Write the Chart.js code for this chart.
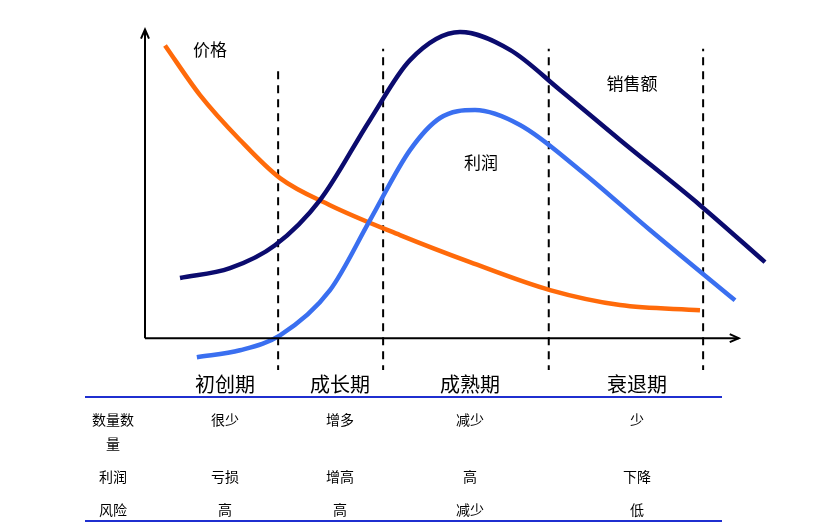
<!DOCTYPE html>
<html><head><meta charset="utf-8">
<script src="https://cdn.jsdelivr.net/npm/chart.js@4"></script>
<style>html,body{margin:0;background:#fff}#wrap{width:819px;height:524px}</style>
</head><body><div id="wrap"><canvas id="c"></canvas></div>
<script>
// data in diagram units: x 0..100 along the time axis, y -10..100
const priceX = [3.2, 8.8, 15.2, 21.6, 29.6, 40.8, 52, 64.8, 76, 88.8];
const priceY = [92, 76.4, 62.3, 50.3, 41.8, 32.4, 23.9, 15.1, 10.4, 8.8];
const salesX = [5.6, 13.6, 20.8, 28, 36, 42.4, 50.4, 58.4, 66.4, 76, 88.8, 99.2];
const salesY = [18.9, 22, 29.2, 43.4, 68.6, 87.4, 96.2, 90.6, 78, 62.3, 41.8, 23.9];
const profitX = [8.3, 15.2, 21.6, 29.6, 36, 42.4, 47.2, 52.8, 60, 69.6, 80.8, 94.4];
const profitY = [-6, -3.8, 0.9, 15.1, 37.1, 59.1, 69.2, 71.7, 67, 52.8, 34, 11.9];
const stageBounds = [21.3, 38.1, 64.6, 89.3];
const stageTops = [85, 91, 91, 91];
const stages = ["初创期", "成长期", "成熟期", "衰退期"];
const rowNames = [["数量数", "量"], ["利润"], ["风险"]];
const rows = [
  ["很少", "增多", "减少", "少"],
  ["亏损", "增高", "高", "下降"],
  ["高", "高", "减少", "低"]
];

const pts = (xs, ys) => xs.map((x, i) => ({x, y: ys[i]}));
const curve = (data, color) => ({data, borderColor: color, borderWidth: 4.5, pointRadius: 0,
  cubicInterpolationMode: "monotone", fill: false});
const dashes = stageBounds.map((x, i) => ({data: [{x, y: -11}, {x, y: stageTops[i]}],
  borderColor: "#000", borderWidth: 2, borderDash: [8, 6], pointRadius: 0}));

const CJK = '"Noto Sans CJK SC", sans-serif';

const decor = {
  id: "decor",
  afterDatasetsDraw(chart) {
    const {ctx, scales: {x, y}} = chart;
    const ox = x.getPixelForValue(0), oy = y.getPixelForValue(0);
    ctx.save();
    ctx.strokeStyle = "#000"; ctx.fillStyle = "#000"; ctx.lineWidth = 2;
    // axes with arrows
    const ty = y.getPixelForValue(97), rx = x.getPixelForValue(95);
    ctx.beginPath(); ctx.moveTo(ox, oy); ctx.lineTo(ox, ty); ctx.moveTo(ox, oy); ctx.lineTo(rx, oy); ctx.stroke();
    ctx.beginPath(); ctx.moveTo(ox - 4, ty + 9); ctx.lineTo(ox, ty); ctx.lineTo(ox + 4, ty + 9); ctx.stroke();
    ctx.beginPath(); ctx.moveTo(rx - 9, oy - 4); ctx.lineTo(rx, oy); ctx.lineTo(rx - 9, oy + 4); ctx.stroke();
    // curve labels
    ctx.font = "17px " + CJK; ctx.textAlign = "center"; ctx.textBaseline = "middle";
    ctx.fillText("价格", 210, 50);
    ctx.fillText("销售额", 632, 84);
    ctx.fillText("利润", 481, 163);
    // stage names
    const cols = [225, 340, 470, 637];
    ctx.font = "20px " + CJK;
    stages.forEach((s, i) => ctx.fillText(s, cols[i], 384));
    ctx.strokeStyle = "#1f2fd0"; ctx.lineWidth = 2;
    ctx.beginPath(); ctx.moveTo(85, 397); ctx.lineTo(722, 397); ctx.moveTo(85, 521); ctx.lineTo(722, 521); ctx.stroke();
    // table
    ctx.font = "14px " + CJK;
    const rowY = [420, 477, 510];
    rowNames.forEach((n, r) => n.forEach((t, k) => ctx.fillText(t, 113, rowY[r] + k * 24)));
    rows.forEach((row, r) => row.forEach((t, c) => ctx.fillText(t, cols[c], rowY[r])));
    ctx.restore();
  }
};

new Chart(document.getElementById("c"), {
  type: "line",
  data: {datasets: [
    curve(pts(salesX, salesY), "#0b0b6e"),
    curve(pts(profitX, profitY), "#3a6ff0"),
    curve(pts(priceX, priceY), "#ff6a0a"),
    ...dashes
  ]},
  options: {
    responsive: true, maintainAspectRatio: false, animation: false,
    layout: {padding: {left: 145, right: 49, top: 20, bottom: 154}},
    plugins: {legend: {display: false}, tooltip: {enabled: false}},
    scales: {
      x: {type: "linear", min: 0, max: 100, display: false},
      y: {min: -10, max: 100, display: false}
    }
  },
  plugins: [decor]
});
</script></body></html>
